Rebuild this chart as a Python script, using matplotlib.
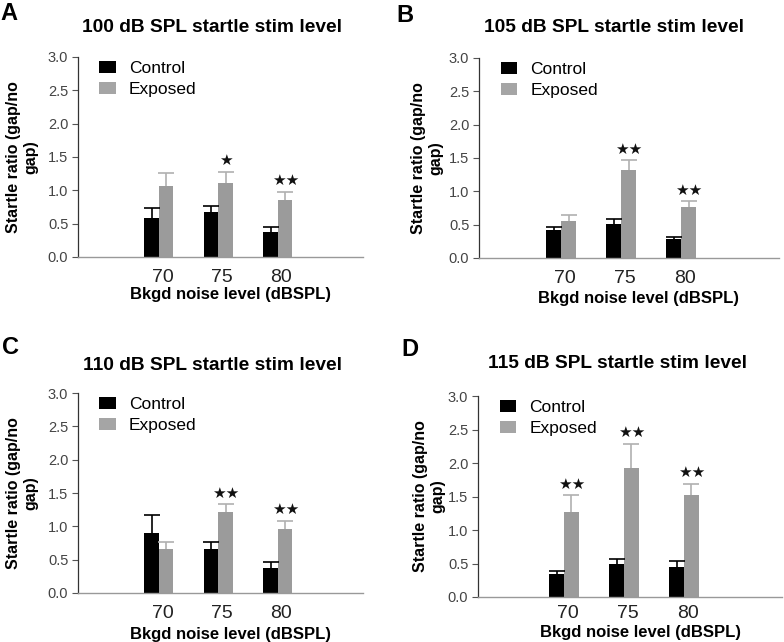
import numpy as np
import matplotlib
matplotlib.use('Agg')
import matplotlib.pyplot as plt
from matplotlib.patches import Patch

plt.rcParams['font.family'] = ['Liberation Sans', 'DejaVu Sans']

# data
noise_levels = ['70', '75', '80']
panel_letters = ['A', 'B', 'C', 'D']
stim_titles = ['100 dB SPL startle stim level', '105 dB SPL startle stim level',
               '110 dB SPL startle stim level', '115 dB SPL startle stim level']

control_mean = [[0.58, 0.68, 0.37],
                [0.415, 0.515, 0.285],
                [0.90, 0.66, 0.375],
                [0.35, 0.49, 0.45]]
control_err = [[0.15, 0.08, 0.08],
               [0.05, 0.07, 0.03],
               [0.265, 0.10, 0.085],
               [0.04, 0.07, 0.08]]
exposed_mean = [[1.07, 1.11, 0.86],
                [0.55, 1.315, 0.765],
                [0.665, 1.215, 0.955],
                [1.275, 1.92, 1.525]]
exposed_err = [[0.19, 0.17, 0.12],
               [0.10, 0.15, 0.085],
               [0.105, 0.115, 0.13],
               [0.25, 0.37, 0.165]]
stars = [[0, 1, 2],
         [0, 2, 2],
         [0, 2, 2],
         [2, 2, 2]]

W, H = 784, 642
BLACK = '#000000'
GREY = '#9b9b9b'
ERR_GREY = '#b0b0b0'

# pixel layout: axes left, right, top, bottom; xlim
boxes = [(78, 363, 57, 257, (-1.36, 3.43)),
         (479, 779, 58, 258, (-1.37, 3.63)),
         (78, 363, 393, 593, (-1.36, 3.43)),
         (478, 782, 396, 597, (-1.43, 3.63))]
title_pos = [(212, 27), (614, 27), (212, 365), (617, 364)]
letter_pos = [(0, 14), (396, 16), (2, 347), (401, 350)]
ylab_x = [22, 427, 22, 429]
xlab_y = [295, 299, 634, 633]

fig = plt.figure(figsize=(W / 100, H / 100), dpi=100)

for i in range(4):
    L, R, T, B, xl = boxes[i]
    ax = fig.add_axes([L / W, 1 - B / H, (R - L) / W, (B - T) / H])
    x = np.arange(len(noise_levels))
    bw = 0.245
    ax.bar(x - bw / 2, control_mean[i], bw, color=BLACK, zorder=2)
    ax.bar(x + bw / 2, exposed_mean[i], bw, color=GREY, zorder=2)
    for xs, m, e, c in [(x - bw / 2, control_mean[i], control_err[i], BLACK),
                        (x + bw / 2, exposed_mean[i], exposed_err[i], ERR_GREY)]:
        _, caps, _ = ax.errorbar(xs, m, yerr=[np.zeros(3), e], fmt='none',
                                 ecolor=c, elinewidth=1.2, capsize=5.5,
                                 capthick=1.2, zorder=3)
        caps[0].set_visible(False)
    for j in range(3):
        if stars[i][j]:
            ax.text(x[j] + bw / 2, exposed_mean[i][j] + exposed_err[i][j] + 0.05,
                    '\u2605' * stars[i][j], ha='center', va='bottom', fontsize=11,
                    family='DejaVu Sans', color='#111111')

    ax.set_xlim(*xl)
    ax.set_ylim(0, 3.0)
    ax.set_yticks(np.arange(0, 3.01, 0.5))
    ax.set_yticklabels(['%.1f' % v for v in np.arange(0, 3.01, 0.5)],
                       fontsize=10.5, color='#444444')
    ax.set_xticks(x + 0.06)
    ax.set_xticklabels(noise_levels, fontsize=14, color='#222222')
    ax.tick_params(axis='x', length=0, pad=9 if i < 3 else 6)
    ax.tick_params(axis='y', length=4, width=0.8, color='#555555', pad=3)
    for s in ['top', 'right']:
        ax.spines[s].set_visible(False)
    ax.spines['left'].set_color('#333333')
    ax.spines['bottom'].set_color('#999999')
    ax.spines['left'].set_linewidth(0.9)
    ax.spines['bottom'].set_linewidth(1.0)

    handles = [Patch(facecolor=BLACK, label='Control'),
               Patch(facecolor='#a5a5a5', label='Exposed')]
    ax.legend(handles=handles, loc='upper left', bbox_to_anchor=(0.02, 1.06),
              frameon=False, fontsize=12.5, handlelength=0.95, handleheight=0.7,
              handletextpad=0.75, labelspacing=0.35)

    tx, ty = title_pos[i]
    fig.text(tx / W, 1 - ty / H, stim_titles[i], ha='center', va='center',
             fontsize=13.8, fontweight='bold')
    lx, ly = letter_pos[i]
    fig.text(lx / W, 1 - ly / H, panel_letters[i], ha='left', va='center',
             fontsize=17, fontweight='bold')
    fig.text(ylab_x[i] / W, 1 - ((T + B) / 2) / H, 'Startle ratio (gap/no\ngap)',
             rotation=90, ha='center', va='center', multialignment='center',
             fontsize=11.5, fontweight='bold', linespacing=1.15)
    fig.text(((L + R) / 2 + 10) / W, 1 - xlab_y[i] / H, 'Bkgd noise level (dBSPL)',
             ha='center', va='center', fontsize=12, fontweight='bold')

fig.savefig('out.png', dpi=100)
